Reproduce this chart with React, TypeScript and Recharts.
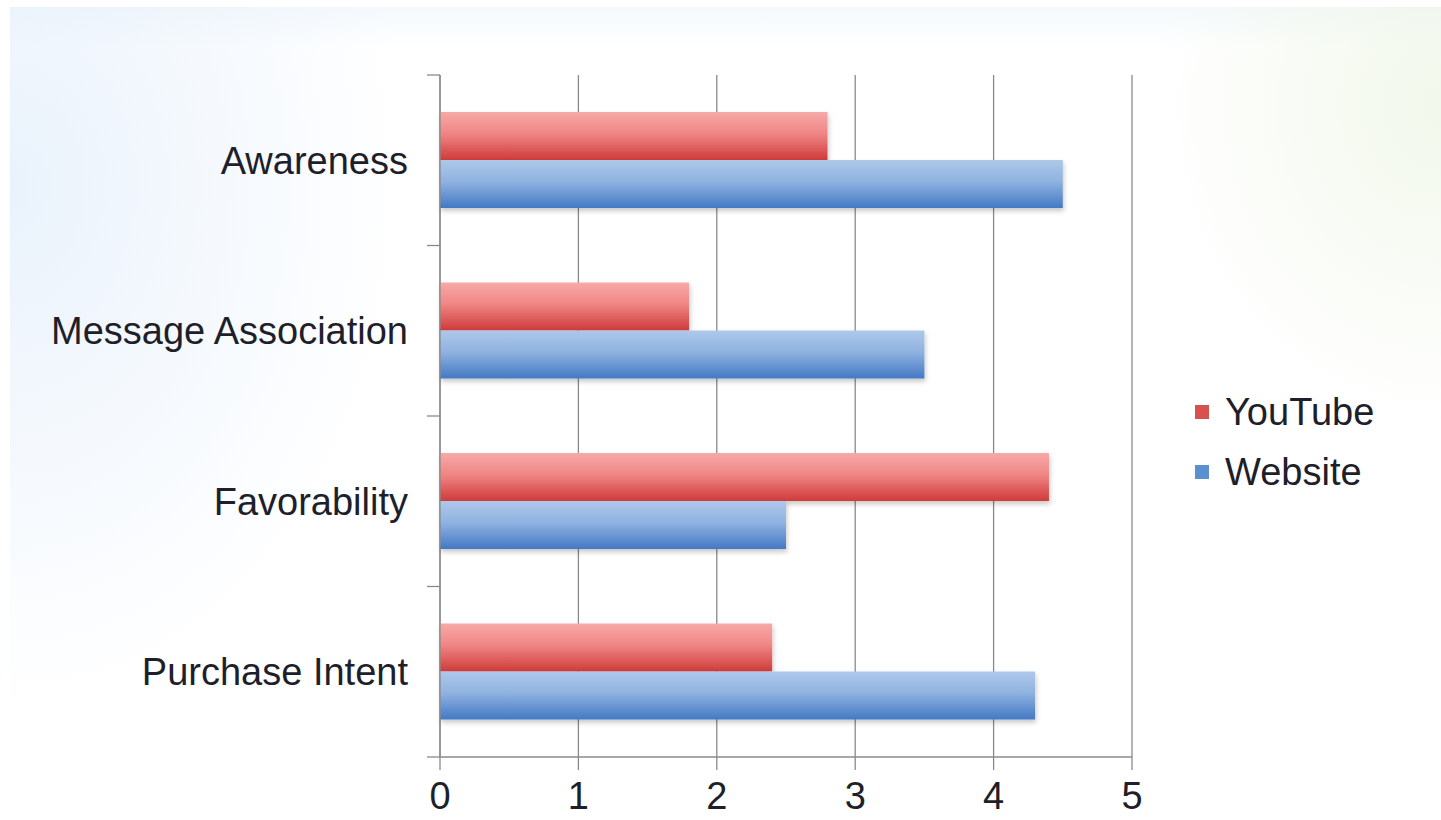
import React from 'react';
import {
    BarChart,
    Bar,
    XAxis,
    YAxis,
    CartesianGrid,
    Legend,
} from 'recharts';

// Survey scores per metric, one series per channel
const categories = ['Awareness', 'Message Association', 'Favorability', 'Purchase Intent'];
const youtubeScores = [2.8, 1.8, 4.4, 2.4];
const websiteScores = [4.5, 3.5, 2.5, 4.3];
const xTicks = [0, 1, 2, 3, 4, 5];

const seriesNames = { youtube: 'YouTube', website: 'Website' };

const data = categories.map((name, i) => ({
    name,
    youtube: youtubeScores[i],
    website: websiteScores[i],
}));

const WIDTH = 1441;
const HEIGHT = 820;
const MARGIN = { top: 75, right: 309, bottom: 3, left: 10 };
const Y_AXIS_WIDTH = 430;
const X_AXIS_HEIGHT = 60;
const LABEL_GAP = 32;
const AXIS_COLOR = '#8a8a8a';
const TEXT_COLOR = '#1e1f2a';
const FONT = '"Liberation Sans", Arial, sans-serif';

const plotHeight = HEIGHT - MARGIN.top - MARGIN.bottom - X_AXIS_HEIGHT;

// Category label plus tick marks at the band edges
const CategoryTick = (props: any) => {
    const { x, y, payload, index } = props;
    const half = payload?.offset || plotHeight / categories.length / 2;
    const axisX = x + LABEL_GAP;
    const isLast = index === categories.length - 1;
    return (
        <g>
            <line x1={axisX - 13} x2={axisX} y1={y - half} y2={y - half} stroke={AXIS_COLOR} strokeWidth={1.3} />
            {isLast && (
                <line x1={axisX - 13} x2={axisX} y1={y + half} y2={y + half} stroke={AXIS_COLOR} strokeWidth={1.3} />
            )}
            <text x={x} y={y} dy="0.36em" textAnchor="end" fontSize={38} fill={TEXT_COLOR} fontFamily={FONT}>
                {payload.value}
            </text>
        </g>
    );
};

const LegendContent = () => (
    <div style={{ fontFamily: FONT, fontSize: 38, color: TEXT_COLOR, lineHeight: '60px' }}>
        {[
            { label: seriesNames.youtube, color: '#d9514f' },
            { label: seriesNames.website, color: '#5b8fd0' },
        ].map((item) => (
            <div key={item.label} style={{ display: 'flex', alignItems: 'center' }}>
                <span
                    style={{
                        display: 'inline-block',
                        width: 14,
                        height: 14,
                        background: item.color,
                        marginRight: 16,
                    }}
                />
                {item.label}
            </div>
        ))}
    </div>
);

export default function App() {
    return (
        <div
            style={{
                position: 'absolute',
                left: 0,
                top: 0,
                width: WIDTH,
                height: HEIGHT,
                background: '#ffffff',
                overflow: 'hidden',
            }}
        >
            <div
                style={{
                    position: 'absolute',
                    left: 10,
                    top: 7,
                    right: 0,
                    bottom: 0,
                    background:
                        'radial-gradient(ellipse 28% 65% at 0% 22%, rgba(226,238,250,0.75), rgba(255,255,255,0) 100%),' +
                        'radial-gradient(ellipse 20% 40% at 100% 12%, rgba(238,246,230,0.8), rgba(255,255,255,0) 100%),' +
                        'linear-gradient(180deg, rgba(240,246,251,0.7) 0px, rgba(255,255,255,0) 40px)',
                }}
            />
            <div style={{ position: 'absolute', left: 0, top: 0 }}>
                <BarChart
                    width={WIDTH}
                    height={HEIGHT}
                    data={data}
                    layout="vertical"
                    margin={MARGIN}
                    barGap={0}
                    barSize={48}
                >
                    <defs>
                        <linearGradient id="redFill" x1="0" y1="0" x2="0" y2="1">
                            <stop offset="0%" stopColor="#f7a9a8" />
                            <stop offset="45%" stopColor="#ef8685" />
                            <stop offset="100%" stopColor="#cf3b3a" />
                        </linearGradient>
                        <linearGradient id="blueFill" x1="0" y1="0" x2="0" y2="1">
                            <stop offset="0%" stopColor="#aec8ea" />
                            <stop offset="45%" stopColor="#8fb2e0" />
                            <stop offset="100%" stopColor="#4379c4" />
                        </linearGradient>
                        <filter id="barShadow" x="-5%" y="-20%" width="110%" height="150%">
                            <feDropShadow dx="1" dy="3" stdDeviation="2.5" floodColor="#000" floodOpacity="0.22" />
                        </filter>
                    </defs>
                    <CartesianGrid horizontal={false} stroke={AXIS_COLOR} strokeWidth={1.3} />
                    <XAxis
                        type="number"
                        domain={[0, 5]}
                        ticks={xTicks}
                        height={X_AXIS_HEIGHT}
                        tickSize={13}
                        tickMargin={12}
                        axisLine={{ stroke: AXIS_COLOR, strokeWidth: 1.3 }}
                        tickLine={{ stroke: AXIS_COLOR, strokeWidth: 1.3 }}
                        tick={{ fontSize: 38, fill: TEXT_COLOR, fontFamily: FONT }}
                    />
                    <YAxis
                        type="category"
                        dataKey="name"
                        width={Y_AXIS_WIDTH}
                        tickSize={0}
                        tickMargin={LABEL_GAP}
                        tickLine={false}
                        axisLine={{ stroke: AXIS_COLOR, strokeWidth: 1.3 }}
                        tick={<CategoryTick />}
                        interval={0}
                    />
                    <Legend
                        layout="vertical"
                        align="center"
                        verticalAlign="middle"
                        content={<LegendContent />}
                        wrapperStyle={{ left: 1195, top: 382, width: 'auto' }}
                    />
                    <Bar
                        dataKey="youtube"
                        name={seriesNames.youtube}
                        fill="url(#redFill)"
                        filter="url(#barShadow)"
                        isAnimationActive={false}
                    />
                    <Bar
                        dataKey="website"
                        name={seriesNames.website}
                        fill="url(#blueFill)"
                        filter="url(#barShadow)"
                        isAnimationActive={false}
                    />
                </BarChart>
            </div>
        </div>
    );
}
